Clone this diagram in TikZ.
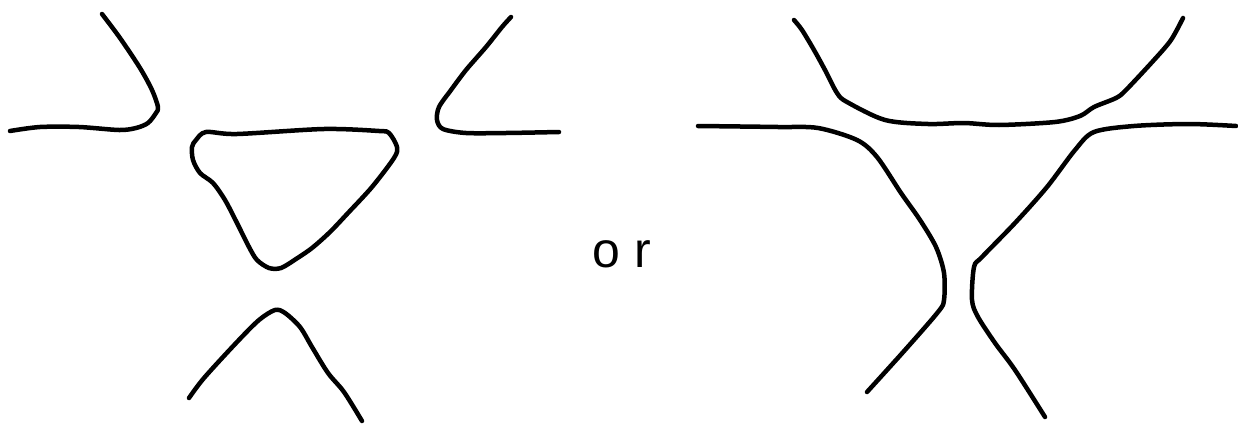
\documentclass[tikz,border=0pt]{standalone}
\usepackage{fontspec}
\setmainfont{Liberation Sans}
\begin{document}
\begin{tikzpicture}[x=1pt,y=-1pt,
  strand/.style={line width=4.5pt,line cap=round,line join=round,black},
  lbl/.style={font=\fontsize{50}{60}\selectfont,inner sep=0pt}]
\useasboundingbox (0,0) rectangle (1238,423);
% left figure
\draw[strand] plot[smooth,tension=0.5] coordinates {(102,14) (120,38) (140,68) (152,90) (158,107) (156,113) (148,123) (136,128) (119,130) (79,127) (40,127) (10,131)};
\draw[strand] plot[smooth,tension=0.5] coordinates {(511,17) (502,27) (486,47) (466,70) (451,90) (439,107) (437,120) (443,129) (466,133) (506,133) (559,132)};
\draw[strand] plot[smooth cycle,tension=0.5] coordinates {(206,132) (237,134) (324,129) (379,131) (389,133) (397,147) (394,158) (372,187) (348,213) (330,232) (312,248) (296,259) (281,268) (269,268) (257,260) (249,247) (237,223) (225,200) (213,183) (200,173) (193,160) (192,147) (196,140)};
\draw[strand] plot[smooth,tension=0.5] coordinates {(189,398) (204,378) (237,342) (259,320) (275,310) (285,313) (300,327) (312,347) (328,373) (344,392) (362,421)};
% or
\node[lbl] (or) at (622,254) {o\hspace{14pt}r};
% right figure
\draw[strand] plot[smooth,tension=0.5] coordinates {(794,20) (802,30) (814,50) (825,70) (837,93) (847,102) (885,120) (928,124) (964,123) (999,125) (1055,122) (1080,116) (1094,107) (1116,98) (1126,90) (1154,60) (1171,40) (1183,18)};
\draw[strand] plot[smooth,tension=0.5] coordinates {(698,126) (778,127) (818,128) (857,140) (877,157) (901,193) (920,220) (936,247) (944,273) (944,300) (938,312) (905,350) (867,392)};
\draw[strand] plot[smooth,tension=0.5] coordinates {(1236,126) (1189,124) (1134,126) (1094,132) (1075,150) (1047,187) (1015,223) (982,257) (974,267) (972,300) (978,317) (995,343) (1015,370) (1045,417)};
\end{tikzpicture}
\end{document}
